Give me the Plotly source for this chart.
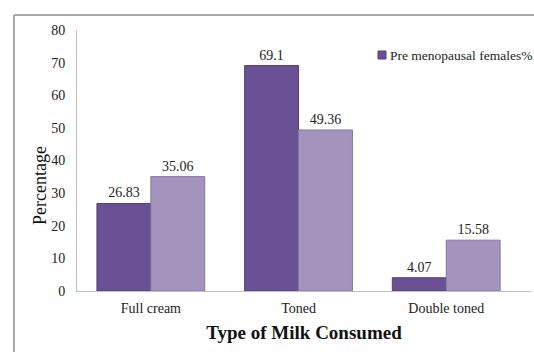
import plotly.graph_objects as go

# Milk type consumption (%) by group
categories = ["Full cream", "Toned", "Double toned"]
pre_menopausal = [26.83, 69.1, 4.07]
post_menopausal = [35.06, 49.36, 15.58]
series_names = ["Pre menopausal females%", "Post menopausal females%"]
colors = ["#6a5196", "#a294bd"]
edge_colors = ["#54407a", "#85789e"]

W, H = 534, 352
L, R, T, B = 77, 3, 30, 61
pw, ph = W - L - R, H - T - B
SERIF = "Liberation Serif"


def px_x(p):
    return (p - L) / pw


def px_y(p):
    return (H - B - p) / ph


fig = go.Figure()
for name, vals, c, ec in zip(series_names, [pre_menopausal, post_menopausal],
                             colors, edge_colors):
    fig.add_trace(go.Bar(
        x=categories, y=vals, name=name, showlegend=False,
        marker=dict(color=c, line=dict(color=ec, width=1)),
        text=[f"{v:g}" for v in vals], textposition="outside",
        textfont=dict(family=SERIF, size=14, color="#222"),
        cliponaxis=False,
    ))

fig.update_layout(
    width=W, height=H,
    margin=dict(l=L, r=R, t=T, b=B, autoexpand=False),
    paper_bgcolor="white", plot_bgcolor="white",
    barmode="group", bargap=0.27, bargroupgap=0,
    font=dict(family=SERIF, size=14, color="#222"),
    xaxis=dict(
        range=[-0.5, 2.574], showline=True, linecolor="#bfbfbf", linewidth=1,
        ticks="", showgrid=False, ticklabelstandoff=4,
        tickfont=dict(family=SERIF, size=14, color="#222"),
        title=dict(text="<b>Type of Milk Consumed</b>",
                   font=dict(family=SERIF, size=19, color="#111"),
                   standoff=10),
    ),
    yaxis=dict(
        range=[0, 80], dtick=10, showline=True, linecolor="#bfbfbf", linewidth=1,
        ticks="", showgrid=False,
        tickfont=dict(family=SERIF, size=14, color="#222"),
        ticklabelstandoff=8, zeroline=False,
    ),
    shapes=[
        # outer chart frame (left and top edges)
        dict(type="line", xref="paper", yref="paper",
             x0=px_x(14), x1=px_x(14), y0=px_y(15), y1=px_y(360),
             line=dict(color="#8c8c8c", width=1.5)),
        dict(type="line", xref="paper", yref="paper",
             x0=px_x(14), x1=px_x(540), y0=px_y(15), y1=px_y(15),
             line=dict(color="#8c8c8c", width=1.5)),
        # legend key for the first series
        dict(type="rect", xref="paper", yref="paper",
             x0=px_x(378), x1=px_x(386), y0=px_y(59), y1=px_y(51),
             fillcolor=colors[0], line=dict(color=edge_colors[0], width=1)),
    ],
    annotations=[
        dict(text="Percentage", textangle=-90, xref="paper", yref="paper",
             x=px_x(40), y=px_y(186), xanchor="center", yanchor="middle",
             showarrow=False,
             font=dict(family=SERIF, size=18, color="#111")),
        dict(text=series_names[0], xref="paper", yref="paper",
             x=px_x(388), y=px_y(55), xanchor="left", yanchor="middle",
             showarrow=False,
             font=dict(family=SERIF, size=13.5, color="#222")),
    ],
)

fig.write_html("out.html")
